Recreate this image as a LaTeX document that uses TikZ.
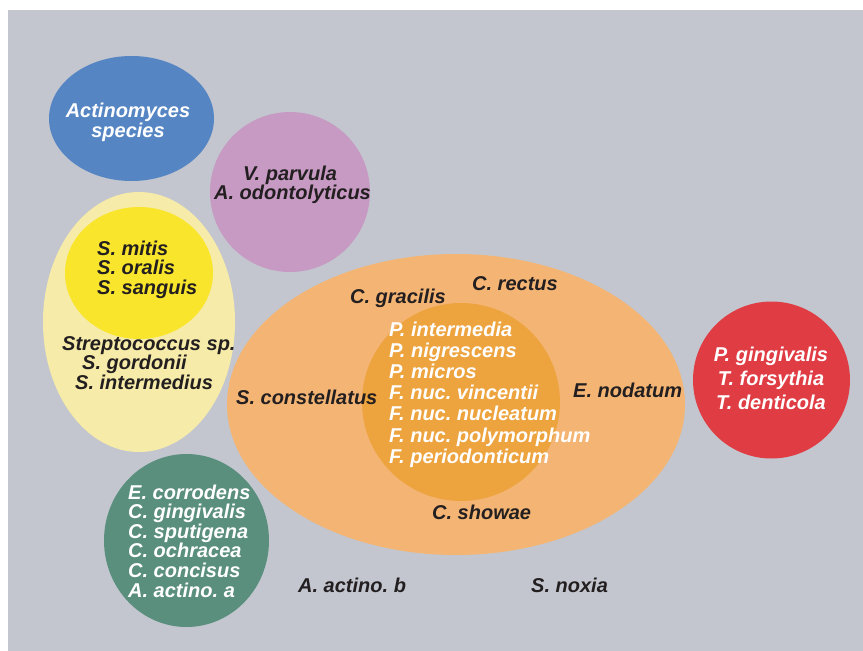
\documentclass[tikz,border=0pt]{standalone}
\usepackage{fontspec}
\setmainfont{Liberation Sans}
\frenchspacing
\definecolor{bggray}{HTML}{C3C6CE}
\definecolor{cblue}{HTML}{5585C3}
\definecolor{cpurple}{HTML}{C69AC3}
\definecolor{clyellow}{HTML}{F6EBA8}
\definecolor{cyellow}{HTML}{F9E52B}
\definecolor{corange}{HTML}{F4B574}
\definecolor{cdorange}{HTML}{EDA33E}
\definecolor{cred}{HTML}{E03C44}
\definecolor{cgreen}{HTML}{5A8F7D}
\definecolor{ctext}{HTML}{231F20}
\tikzset{
  lbl/.style={inner sep=0pt, font=\fontsize{20}{#1}\selectfont\bfseries\itshape\frenchspacing},
  dark/.style={text=ctext},
  light/.style={text=white}
}
\begin{document}
\begin{tikzpicture}[x=1pt,y=-1pt]
\useasboundingbox (0,0) rectangle (863,651);
\fill[white] (0,0) rectangle (863,651);
\fill[bggray] (8,10) rectangle (863,651);
% shapes
\fill[cblue] (131.5,118.5) ellipse [x radius=82.5, y radius=62.5];
\fill[cpurple] (290,192) circle [radius=80];
\fill[clyellow] (139,322) ellipse [x radius=96, y radius=130];
\fill[cyellow] (139,273) ellipse [x radius=74, y radius=66];
\fill[corange] (456,404.5) ellipse [x radius=229, y radius=150.5];
\fill[cdorange] (461,402) circle [radius=99];
\fill[cred] (771.5,380) circle [radius=78.5];
\fill[cgreen] (186.5,540.5) ellipse [x radius=82.5, y radius=86.5];
% labels (base anchor = baseline of the last line)
\node[lbl=20, light, align=center, anchor=base] (act) at (128,137) {Actinomyces\\species};
\node[lbl=19, dark, align=left, anchor=base west] (vp) at (214,199) {\hspace*{29pt}V. parvula\\A. odontolyticus};
\node[lbl=19.5, dark, align=left, anchor=base west] (smit) at (97,294) {S. mitis\\S. oralis\\S. sanguis};
\node[lbl=19.5, dark, align=left, anchor=base west] (strep) at (62,389) {Streptococcus sp.\\\hspace*{20pt}S. gordonii\\\hspace*{13pt}S. intermedius};
\node[lbl=20, dark, anchor=base west] (cgr) at (350,303) {C. gracilis};
\node[lbl=20, dark, anchor=base west] (cre) at (472,290) {C. rectus};
\node[lbl=20, dark, anchor=base west] (scon) at (236,404) {S. constellatus};
\node[lbl=20, dark, anchor=base west] (enod) at (573,397) {E. nodatum};
\node[lbl=20, dark, anchor=base west] (csho) at (432,519) {C. showae};
\node[lbl=21.2, light, align=left, anchor=base west] (inner) at (389,463.2) {P. intermedia\\P. nigrescens\\P. micros\\F. nuc. vincentii\\F. nuc. nucleatum\\F. nuc. polymorphum\\F. periodonticum};
\node[lbl=24, light, align=center, anchor=base] (red) at (771,409) {P. gingivalis\\T. forsythia\\T. denticola};
\node[lbl=19.6, light, align=left, anchor=base west] (green) at (128,597) {E. corrodens\\C. gingivalis\\C. sputigena\\C. ochracea\\C. concisus\\A. actino. a};
\node[lbl=20, dark, anchor=base west] (aab) at (298,592) {A. actino. b};
\node[lbl=20, dark, anchor=base west] (snox) at (531,592) {S. noxia};
\end{tikzpicture}
\end{document}
